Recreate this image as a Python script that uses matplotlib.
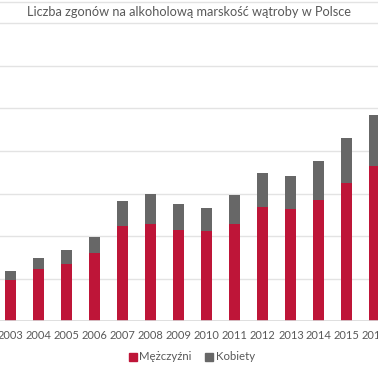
import numpy as np
import matplotlib
matplotlib.use('Agg')
import matplotlib.pyplot as plt
from matplotlib.lines import Line2D

years = ['2003', '2004', '2005', '2006', '2007', '2008', '2009',
         '2010', '2011', '2012', '2013', '2014', '2015', '2016']
mezczyzni = [970, 1230, 1350, 1610, 2240, 2290, 2150,
             2110, 2290, 2680, 2640, 2850, 3250, 3650]
kobiety = [205, 258, 315, 369, 580, 697, 611,
           540, 667, 805, 768, 909, 1042, 1197]

red = '#BE1538'
grey = '#676767'
txt = '#595959'

plt.rcParams['font.family'] = ['Lato', 'DejaVu Sans']

fig = plt.figure(figsize=(3.78, 3.70), dpi=100)
ax = fig.add_axes([0, 0.1316, 1, 0.8684])

x = np.arange(len(years))
ax.bar(x, mezczyzni, width=0.39, color=red, zorder=3)
ax.bar(x, kobiety, width=0.39, bottom=mezczyzni, color=grey, zorder=3)

ax.set_xlim(-0.386, 13.11)
ax.set_ylim(0, 7542)
ax.set_yticks(np.arange(1000, 8000, 1000))
ax.grid(axis='y', color='#e3e3e3', lw=1, zorder=0)
ax.axhline(0, color='#d9d9d9', lw=1.2, zorder=4)
for s in ax.spines.values():
    s.set_visible(False)
ax.tick_params(axis='y', left=False, labelleft=False)
ax.tick_params(axis='x', length=0, pad=6, labelsize=8, labelcolor=txt)
ax.set_xticks(x)
ax.set_xticklabels(years)

fig.add_artist(Line2D([0, 1], [1 - 1.5 / 370, 1 - 1.5 / 370], color='#e3e3e3', lw=1))
fig.text(0.5, 1 - 12.5 / 370, 'Liczba zgonów na alkoholową marskość wątroby w Polsce',
         ha='center', va='center', fontsize=9.2, color=txt)

handles = [Line2D([], [], marker='s', ls='', color=red, markersize=5.5),
           Line2D([], [], marker='s', ls='', color=grey, markersize=5.5)]
fig.legend(handles, ['Mężczyźni', 'Kobiety'], loc='center',
           bbox_to_anchor=(0.505, 1 - 357 / 370), ncol=2, frameon=False,
           fontsize=8.2, labelcolor=txt, handletextpad=0.1, columnspacing=1.0,
           handlelength=1)

fig.savefig('out.png', dpi=100)
